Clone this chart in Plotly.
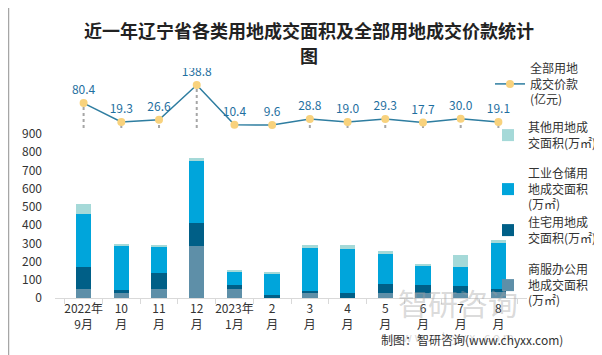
import plotly.graph_objects as go

months = ["2022年<br>9月", "10<br>月", "11<br>月", "12<br>月", "2023年<br>1月", "2<br>月",
          "3<br>月", "4<br>月", "5<br>月", "6<br>月", "7<br>月", "8<br>月"]
commercial = [47, 30, 47, 288, 47, 5, 27, 2, 27, 27, 27, 33]
residential = [125, 16, 88, 122, 22, 10, 11, 25, 50, 44, 39, 16]
industrial = [287, 242, 148, 347, 77, 122, 237, 243, 165, 110, 104, 253]
other = [59, 5, 10, 10, 5, 5, 16, 21, 16, 6, 66, 16]
price = [80.4, 19.3, 26.6, 138.8, 10.4, 9.6, 28.8, 19.0, 29.3, 17.7, 30.0, 19.1]

FONT = "Noto Sans CJK SC"
fig = go.Figure()

bar_specs = [
    ("商服办公用<br>地成交面积<br>(万㎡)", commercial, "#5E8FA8", 2, "legend3"),
    ("住宅用地成<br>交面积(万㎡)", residential, "#005F87", 1, "legend3"),
    ("工业仓储用<br>地成交面积<br>(万㎡)", industrial, "#00A5DB", 2, "legend2"),
    ("其他用地成<br>交面积(万㎡)", other, "#A5D9D8", 1, "legend2"),
]
for name, vals, col, rank, leg in bar_specs:
    fig.add_trace(go.Bar(x=months, y=vals, name=name, marker_color=col,
                         marker_line_width=0, legend=leg, width=0.41,
                         legendgroup=f"{leg}{rank}", legendrank=rank))

# drop lines
dx, dy = [], []
for m, v in zip(months, price):
    dx += [m, m, None]
    dy += [0, v, None]
fig.add_trace(go.Scatter(x=dx, y=dy, mode="lines", yaxis="y2",
                         line=dict(color="#A6A6A6", width=2, dash="dot"),
                         showlegend=False, hoverinfo="skip"))

fig.add_trace(go.Scatter(x=months, y=price, name="全部用地<br>成交价款<br>(亿元)",
                         mode="lines+markers+text", yaxis="y2",
                         line=dict(color="#2E7DA0", width=1.5),
                         marker=dict(color="#F8D27D", size=8),
                         text=[f"{v:.1f}" for v in price], textposition="top center",
                         textfont=dict(color="#1F6FA0", size=12, family=FONT),
                         legend="legend"))

W, H = 602, 355
l, r, t, b = 47, 83, 60, 65
pw, ph = W - l - r, H - t - b

def px(xp):
    return (xp - l) / pw

def py(yp):
    return (H - b - yp) / ph

leg_font = dict(size=12, color="#333333", family=FONT)
fig.update_layout(
    width=W, height=H,
    margin=dict(l=l, r=r, t=t, b=b, autoexpand=False),
    paper_bgcolor="white", plot_bgcolor="white",
    barmode="stack",
    font=dict(family=FONT, size=12, color="#333333"),
    xaxis=dict(showline=True, linecolor="#D9D9D9", linewidth=1, ticks="outside",
               tickson="boundaries", ticklen=5, tickcolor="#D9D9D9", tickangle=0,
               tickfont=dict(size=12, color="#333333"), showgrid=False),
    yaxis=dict(range=[0, 900 * ph / 164], tickvals=list(range(0, 1000, 100)),
               showgrid=False, zeroline=False, showline=False,
               tickfont=dict(size=12, color="#333333"), ticklabelstandoff=12),
    yaxis2=dict(overlaying="y", range=[-(H - b - 120) * 3.23, (120 - t) * 3.23],
                visible=False),
    legend=dict(xref="container", yref="container", x=482 / W, y=1 - 46 / H,
                xanchor="left", yanchor="top", font=leg_font,
                itemwidth=30, bgcolor="rgba(0,0,0,0)"),
    legend2=dict(xref="container", yref="container", x=480 / W, y=1 - 105 / H,
                 xanchor="left", yanchor="top", traceorder="grouped", font=leg_font,
                 itemwidth=30, tracegroupgap=12, bgcolor="rgba(0,0,0,0)"),
    legend3=dict(xref="container", yref="container", x=480 / W, y=1 - 200 / H,
                 xanchor="left", yanchor="top", traceorder="grouped", font=leg_font,
                 itemwidth=30, tracegroupgap=13, bgcolor="rgba(0,0,0,0)"),
    showlegend=True,
)

# title
fig.add_annotation(text="<b>近一年辽宁省各类用地成交面积及全部用地成交价款统计</b>",
                   x=px(301), y=py(22), xref="paper", yref="paper", showarrow=False,
                   xanchor="center", yanchor="middle",
                   font=dict(family=FONT, size=18, color="#222222"))
fig.add_annotation(text="<b>图</b>", x=px(301), y=py(47), xref="paper", yref="paper",
                   showarrow=False, xanchor="center", yanchor="middle",
                   font=dict(family=FONT, size=18, color="#222222"))

# watermark + credit
fig.add_annotation(text="智研咨询", x=px(512), y=py(318), xref="paper", yref="paper",
                   showarrow=False, font=dict(size=30, color="rgba(160,160,160,0.4)", family=FONT))
fig.add_annotation(text="w w w . c h y x x . c o m", x=px(508), y=py(339), xref="paper", yref="paper",
                   showarrow=False, font=dict(size=12, color="rgba(160,160,160,0.4)", family=FONT))
fig.add_annotation(text="制图：智研咨询(www.chyxx.com)", x=px(557), y=py(342), xref="paper",
                   yref="paper", xanchor="right", showarrow=False,
                   font=dict(size=12, color="#333333", family=FONT))

# frame
fig.add_shape(type="rect", xref="paper", yref="paper",
              x0=px(0.5), x1=px(601.5), y0=py(353.5), y1=py(-5),
              line=dict(color="#A6A6A6", width=1.5), layer="below")

fig.write_html("out.html")
